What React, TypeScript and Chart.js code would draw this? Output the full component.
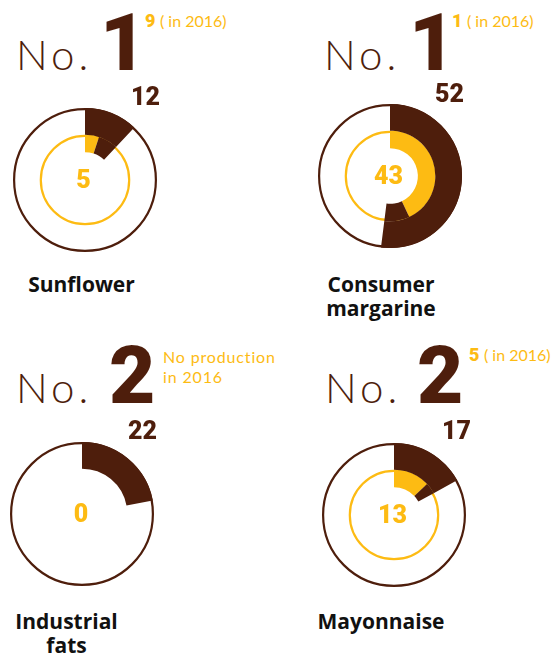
import React, { useEffect, useRef } from 'react';
import { Chart, registerables } from 'chart.js';

Chart.register(...registerables);

// ---- data ----
const categories = ['Sunflower', 'Consumer margarine', 'Industrial fats', 'Mayonnaise'];
const labelLines = [['Sunflower'], ['Consumer', 'margarine'], ['Industrial', 'fats'], ['Mayonnaise']];
const ranks2017 = ['1', '1', '2', '2'];
const ranks2016 = ['9', '1', '', '5'];
const notes2016 = [['( in 2016)'], ['( in 2016)'], ['No production', 'in 2016'], ['( in 2016)']];
const values2017 = [12, 52, 22, 17];
const values2016 = [5, 43, 0, 13];
const scaleMax = 100;

// ---- style ----
const BROWN = '#4e1e0c';
const YELLOW = '#fdbb13';
const INK = '#111111';
const LIGHT = "'Lato', sans-serif";
const HEAVY = "'Roboto', sans-serif";
const LABEL = "'Open Sans', sans-serif";

// ---- layout (positions only) ----
const layout = [
  { cx: 84.5, cy: 180, noX: 16, base: 70.7, rankX: 100, supX: 145, supBase: 27.3, valX: 131, valBase: 106, labelCx: 81.5, labelBase: 292.3 },
  { cx: 389.5, cy: 176, noX: 324, base: 70.7, rankX: 409, supX: 452, supBase: 27.3, valX: 435, valBase: 102.7, labelCx: 381, labelBase: 292.3 },
  { cx: 82, cy: 514, noX: 16, base: 403.5, rankX: 109, supX: 163, supBase: 363, valX: 128, valBase: 440, labelCx: 66.5, labelBase: 629.3 },
  { cx: 393.5, cy: 514.5, noX: 325, base: 403.5, rankX: 417, supX: 469, supBase: 360.7, valX: 442, valBase: 439.3, labelCx: 381, labelBase: 629.3 },
];

const ringPlugin = {
  id: 'rings',
  beforeDatasetsDraw(chart: any, _args: any, opts: any) {
    const ctx = chart.ctx;
    const outer = chart.getDatasetMeta(0).data[0] as any;
    const inner = chart.getDatasetMeta(1).data[0] as any;
    ctx.save();
    ctx.lineWidth = 2.2;
    ctx.strokeStyle = BROWN;
    ctx.beginPath();
    ctx.arc(outer.x, outer.y, outer.outerRadius - 1.1, 0, Math.PI * 2);
    ctx.stroke();
    if (opts.inner) {
      ctx.strokeStyle = YELLOW;
      ctx.beginPath();
      ctx.arc(inner.x, inner.y, inner.outerRadius - 1.1, 0, Math.PI * 2);
      ctx.stroke();
    }
    ctx.restore();
  },
};

function Donut({ i }: { i: number }) {
  const ref = useRef<HTMLCanvasElement>(null);
  const L = layout[i];
  useEffect(() => {
    const v17 = values2017[i];
    const v16 = values2016[i];
    const hasInner = v16 > 0;
    const chart = new Chart(ref.current as HTMLCanvasElement, {
      type: 'doughnut',
      data: {
        labels: ['value', 'difference', 'rest'],
        datasets: [
          {
            data: [v17, 0, scaleMax - v17],
            backgroundColor: [BROWN, BROWN, 'rgba(0,0,0,0)'],
            borderWidth: 0,
            weight: 26,
          } as any,
          {
            data: hasInner ? [v16, v17 - v16, scaleMax - v17] : [0, 0, scaleMax],
            backgroundColor: [YELLOW, BROWN, 'rgba(0,0,0,0)'],
            borderWidth: 0,
            weight: 17,
          } as any,
        ],
      },
      options: {
        animation: false,
        responsive: false,
        radius: 72,
        cutout: 29,
        events: [],
        layout: { padding: 0 },
        plugins: {
          legend: { display: false },
          tooltip: { enabled: false },
          rings: { inner: hasInner },
        } as any,
      } as any,
      plugins: [ringPlugin as any],
    });
    return () => chart.destroy();
  }, [i]);
  return (
    <canvas
      ref={ref}
      width={150}
      height={150}
      style={{ position: 'absolute', left: L.cx - 75, top: L.cy - 75, width: 150, height: 150 }}
    />
  );
}

function T(props: {
  x: number; base: number; size: number; weight?: number; family?: string; color?: string;
  spacing?: number; center?: boolean; k?: number; children: React.ReactNode;
}) {
  const { x, base, size, weight = 400, family = LIGHT, color = INK, spacing = 0, center = false, k = 0.387 } = props;
  return (
    <div
      style={{
        position: 'absolute',
        left: center ? x - 150 : x,
        width: center ? 300 : undefined,
        textAlign: center ? 'center' : 'left',
        top: base - k * size,
        fontSize: size,
        lineHeight: 0,
        fontWeight: weight,
        fontFamily: family,
        color,
        letterSpacing: spacing,
        whiteSpace: 'pre',
      }}
    >
      {props.children}
    </div>
  );
}

function Panel({ i }: { i: number }) {
  const L = layout[i];
  const notes = notes2016[i];
  return (
    <>
      <T x={L.noX} base={L.base} size={42} weight={300} color={BROWN} spacing={4}>No.</T>
      <T x={L.rankX} base={L.base} size={80} weight={900} family={HEAVY} k={0.342} color={BROWN}>{ranks2017[i]}</T>
      {notes.map((n, k) => (
        <T key={k} x={L.supX} base={L.supBase + k * 19.7} size={16} weight={400} color={YELLOW}
           spacing={ranks2016[i] ? 0 : 0.85}>
          {k === 0 && ranks2016[i] ? <span style={{ fontWeight: 900, fontSize: 18, fontFamily: HEAVY }}>{ranks2016[i] + ' '}</span> : null}
          {n}
        </T>
      ))}
      <Donut i={i} />
      <T x={L.valX} base={L.valBase} size={25} weight={900} family={HEAVY} k={0.342} color={BROWN}>{String(values2017[i])}</T>
      <T x={L.cx - 1} base={L.cy + 9} size={25} weight={900} family={HEAVY} k={0.342} color={YELLOW} center>{String(values2016[i])}</T>
      {labelLines[i].map((line, k) => (
        <T key={k} x={L.labelCx} base={L.labelBase + k * 23.5} size={21} weight={700} family={LABEL} color={INK} center>
          {line}
        </T>
      ))}
    </>
  );
}

export default function App() {
  return (
    <div
      style={{ position: 'absolute', left: 0, top: 0, width: 559, height: 654, overflow: 'hidden', background: '#fff' }}
      aria-label={categories.join(', ')}
    >
      {categories.map((_, i) => (
        <Panel key={i} i={i} />
      ))}
    </div>
  );
}
